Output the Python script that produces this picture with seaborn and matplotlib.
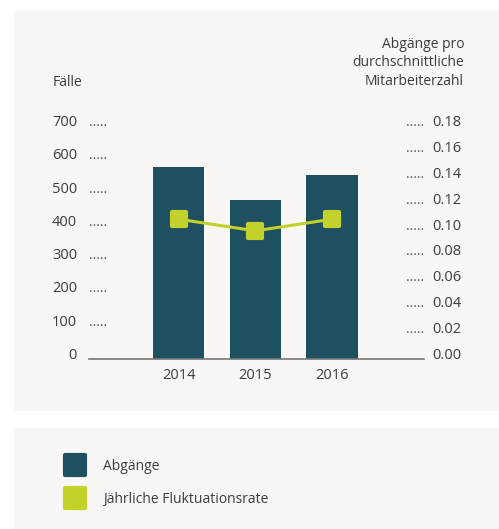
import matplotlib
matplotlib.use('Agg')
import matplotlib.pyplot as plt
import matplotlib.transforms as mtransforms
from matplotlib.patches import FancyBboxPatch
from matplotlib.lines import Line2D
from matplotlib.markers import MarkerStyle
import pandas as pd
import seaborn as sns

# Data
years = ['2014', '2015', '2016']
abgaenge = [578, 478, 553]
fluktuation = [0.108, 0.099, 0.108]
left_ticks = [0, 100, 200, 300, 400, 500, 600, 700]
right_ticks = [0.00, 0.02, 0.04, 0.06, 0.08, 0.10, 0.12, 0.14, 0.16, 0.18]

df = pd.DataFrame({'Jahr': years, 'Abgänge': abgaenge, 'Rate': fluktuation})

sns.set_style('white')
plt.rcParams['font.family'] = ['Open Sans', 'DejaVu Sans']
text_color = '#3c3c3c'
bar_color = '#1e5061'
line_color = '#c3d12b'
panel_color = '#f8f7f5'
rsquare = MarkerStyle('s', joinstyle='round')

fig = plt.figure(figsize=(4.99, 5.29), dpi=100)
W, H = 499, 529

# background panels
for (x0, y0, x1, y1) in [(14, 10, 505, 411), (14, 428, 505, 540)]:
    fig.patches.append(FancyBboxPatch((x0 / W, 1 - y1 / H), (x1 - x0) / W, (y1 - y0) / H,
                                      boxstyle='round,pad=0,rounding_size=0.006',
                                      transform=fig.transFigure, facecolor=panel_color,
                                      edgecolor='none', zorder=-10))

ax = fig.add_axes([89 / W, 1 - 359 / H, (424 - 89) / W, (359 - 126) / H])
ax.patch.set_alpha(0)
sns.barplot(data=df, x='Jahr', y='Abgänge', ax=ax, color=bar_color, width=0.67,
            saturation=1, edgecolor='none')
ax.set_xlim(-1.17, 3.2)
ax.set_ylim(0, 700)

ax2 = ax.twinx()
ax2.patch.set_alpha(0)
sns.pointplot(data=df, x='Jahr', y='Rate', ax=ax2, color=line_color, markers='s',
              markersize=10, linewidth=2.2, markeredgewidth=3)
for ln in ax2.lines:
    ln.set_marker(rsquare)
    ln.set_markeredgecolor(line_color)
    ln.set_markerfacecolor(line_color)
    ln.set_markeredgewidth(3)
    ln.set_clip_on(False)
ax2.set_xlim(-1.17, 3.2)
ax2.set_ylim(0, 0.18)

for a in (ax, ax2):
    for s in a.spines.values():
        s.set_visible(False)
    a.set_xlabel('')
    a.set_ylabel('')
ax.spines['bottom'].set_visible(True)
ax.spines['bottom'].set_color('#777777')
ax.spines['bottom'].set_linewidth(1.2)

ax.set_yticks(left_ticks, [str(v) for v in left_ticks], va='baseline')
ax2.set_yticks(right_ticks, [f'{v:.2f}' for v in right_ticks], va='baseline')
ax.tick_params(axis='y', length=0, pad=8.6, labelsize=10.5, labelcolor=text_color)
ax2.tick_params(axis='y', length=0, pad=5.8, labelsize=10.5, labelcolor=text_color)
ax.tick_params(axis='x', length=0, pad=6.5, labelsize=10.5, labelcolor=text_color)

# dotted leaders
tl = mtransforms.blended_transform_factory(ax.transAxes, ax.transData)
for v in left_ticks[1:]:
    ax.text(0.0, v, '.....', transform=tl, ha='left', va='baseline', fontsize=10,
            color='#555555')
tr = mtransforms.blended_transform_factory(ax2.transAxes, ax2.transData)
for v in right_ticks[1:]:
    ax2.text(1.0, v, '.....', transform=tr, ha='right', va='baseline', fontsize=10,
             color='#555555')

# axis titles
fig.text(53 / W, 1 - 82 / H, 'Fälle', ha='left', va='center', fontsize=10, color=text_color)
fig.text(464 / W, 1 - 63 / H, 'Abgänge pro\ndurchschnittliche\nMitarbeiterzahl', ha='right',
         va='center', fontsize=10, color=text_color, linespacing=1.3, multialignment='right')

# legend
handles = [Line2D([], [], ls='none', marker=rsquare, markersize=14, markeredgewidth=3,
                  color=bar_color, label='Abgänge'),
           Line2D([], [], ls='none', marker=rsquare, markersize=14, markeredgewidth=3,
                  color=line_color, label='Jährliche Fluktuationsrate')]
fig.legend(handles=handles, loc='upper left', bbox_to_anchor=(57 / W, 1 - 452 / H),
           frameon=False, fontsize=10, labelcolor=text_color, handlelength=1.6,
           handletextpad=1.2, labelspacing=1.3, borderpad=0)

fig.savefig('out.png', dpi=100, facecolor='white')
